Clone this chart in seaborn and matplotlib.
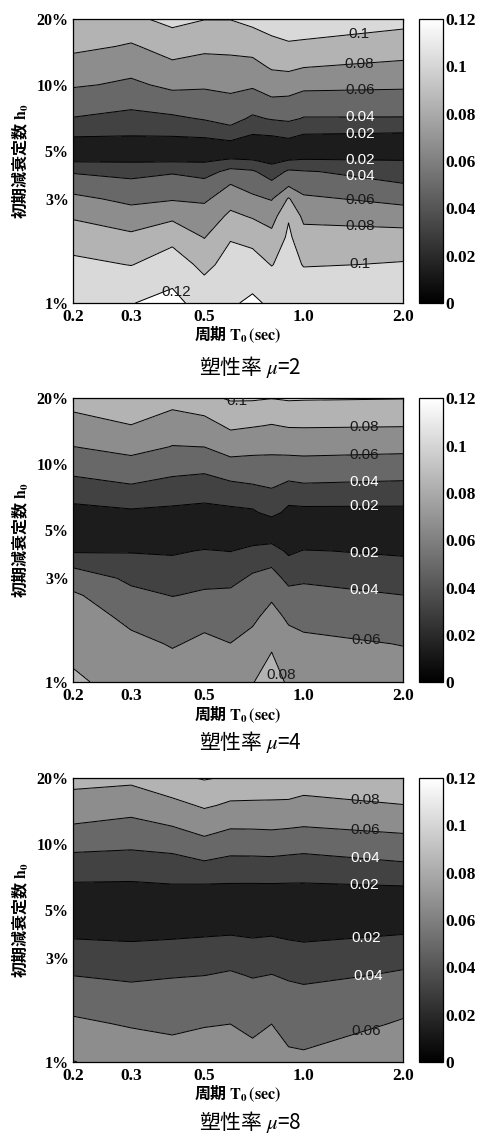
import numpy as np
import matplotlib
matplotlib.use("Agg")
import matplotlib.pyplot as plt
import seaborn as sns
from matplotlib.cm import ScalarMappable
from matplotlib.colors import Normalize
from matplotlib.ticker import NullLocator

# grid: period T0 (sec) and initial damping h0 (%)
periods = [0.2, 0.3, 0.4, 0.5, 0.6, 0.7, 0.8, 0.9, 1.0, 2.0]
damping = [1, 1.5, 2, 2.5, 3, 3.5, 4, 4.5, 5, 6, 7, 8, 10, 12, 15, 20]

# one list per period, values from h0=1% up to h0=20%
z_mu2 = [
    [0.115, 0.104, 0.0911, 0.0776, 0.064, 0.0513, 0.038, 0.0175, 0.004, 0.0246, 0.0391, 0.0475, 0.0621, 0.0718, 0.0845, 0.0995],
    [0.1195, 0.0994, 0.0838, 0.0681, 0.0552, 0.0452, 0.0327, 0.0175, 0.004, 0.0231, 0.0337, 0.0428, 0.0566, 0.066, 0.078, 0.096],
    [0.125, 0.110, 0.0938, 0.0755, 0.0583, 0.0487, 0.0379, 0.0175, 0.004, 0.0238, 0.0367, 0.0479, 0.0647, 0.0756, 0.0886, 0.106],
    [0.112, 0.0945, 0.0793, 0.0681, 0.0569, 0.0458, 0.0326, 0.0175, 0.004, 0.0261, 0.0414, 0.0493, 0.063, 0.0725, 0.0844, 0.1005],
    [0.118, 0.1084, 0.0983, 0.084, 0.0716, 0.06, 0.0459, 0.023, 0.004, 0.0335, 0.046, 0.0535, 0.065, 0.0738, 0.0848, 0.1005],
    [0.123, 0.1083, 0.0933, 0.0782, 0.0635, 0.0525, 0.0426, 0.021, 0.004, 0.0213, 0.0371, 0.0472, 0.0629, 0.0736, 0.0877, 0.106],
    [0.117, 0.0992, 0.0853, 0.0719, 0.0588, 0.0443, 0.0297, 0.015, 0.004, 0.023, 0.0414, 0.0537, 0.0696, 0.0817, 0.0945, 0.11],
    [0.112, 0.1078, 0.1037, 0.0981, 0.0819, 0.0562, 0.0433, 0.0205, 0.004, 0.0274, 0.0432, 0.0525, 0.0696, 0.0834, 0.098, 0.11],
    [0.115, 0.0988, 0.0871, 0.0751, 0.0629, 0.0519, 0.0413, 0.022, 0.004, 0.0211, 0.0389, 0.0484, 0.0652, 0.08, 0.0971, 0.11],
    [0.115, 0.1014, 0.0871, 0.0702, 0.0538, 0.0408, 0.0304, 0.0202, 0.004, 0.0195, 0.0388, 0.048, 0.0635, 0.0757, 0.0894, 0.107],
]

z_mu4 = [
    [0.0821, 0.0756, 0.0691, 0.0626, 0.051, 0.0352, 0.0175, 0.009, 0.004, 0.014, 0.0242, 0.0343, 0.0484, 0.0598, 0.0711, 0.09],
    [0.074, 0.0645, 0.0549, 0.045, 0.0357, 0.0271, 0.0185, 0.009, 0.004, 0.0175, 0.0284, 0.0393, 0.0547, 0.0659, 0.0795, 0.097],
    [0.068, 0.0587, 0.049, 0.0395, 0.0319, 0.0243, 0.0175, 0.009, 0.004, 0.016, 0.0253, 0.0349, 0.0482, 0.0594, 0.0702, 0.088],
    [0.072, 0.0635, 0.0542, 0.0426, 0.0348, 0.0281, 0.0213, 0.011, 0.004, 0.014, 0.0235, 0.0322, 0.0472, 0.0601, 0.0726, 0.095],
    [0.068, 0.0602, 0.0518, 0.0434, 0.0352, 0.0272, 0.0195, 0.01, 0.004, 0.016, 0.026, 0.0368, 0.0548, 0.068, 0.0835, 0.102],
    [0.0795, 0.0658, 0.0561, 0.0494, 0.0427, 0.0344, 0.025, 0.014, 0.004, 0.0175, 0.0283, 0.0393, 0.0542, 0.0662, 0.0812, 0.102],
    [0.086, 0.078, 0.0669, 0.0564, 0.047, 0.0373, 0.0271, 0.016, 0.004, 0.026, 0.0335, 0.0422, 0.0545, 0.0651, 0.0791, 0.1002],
    [0.078, 0.0672, 0.0563, 0.0454, 0.035, 0.0248, 0.017, 0.009, 0.004, 0.015, 0.0257, 0.0368, 0.0539, 0.0663, 0.0814, 0.102],
    [0.072, 0.0635, 0.0546, 0.0457, 0.0371, 0.0289, 0.0208, 0.011, 0.004, 0.0155, 0.0269, 0.0386, 0.0546, 0.0667, 0.0816, 0.1015],
    [0.068, 0.0594, 0.0497, 0.0402, 0.0319, 0.0239, 0.017, 0.009, 0.004, 0.0155, 0.0263, 0.0369, 0.0526, 0.0653, 0.0808, 0.1005],
]

z_mu8 = [
    [0.0805, 0.063, 0.0508, 0.0397, 0.031, 0.0223, 0.0155, 0.009, 0.004, 0.0145, 0.0228, 0.0316, 0.0465, 0.0588, 0.0702, 0.088],
    [0.0725, 0.0581, 0.0465, 0.0365, 0.0286, 0.0207, 0.0152, 0.009, 0.004, 0.0145, 0.0221, 0.0303, 0.0443, 0.0549, 0.0673, 0.085],
    [0.067, 0.0564, 0.0475, 0.0387, 0.0303, 0.022, 0.0155, 0.009, 0.004, 0.0155, 0.0239, 0.0324, 0.0472, 0.0598, 0.0747, 0.096],
    [0.0725, 0.0583, 0.0491, 0.0398, 0.0316, 0.0233, 0.0165, 0.0095, 0.004, 0.0145, 0.0248, 0.0368, 0.0548, 0.0674, 0.0824, 0.1015],
    [0.074, 0.0598, 0.051, 0.0421, 0.0336, 0.0251, 0.017, 0.0095, 0.004, 0.0145, 0.0239, 0.0338, 0.0491, 0.0618, 0.077, 0.0975],
    [0.0655, 0.0559, 0.0472, 0.0387, 0.0307, 0.0227, 0.016, 0.0095, 0.004, 0.0145, 0.0238, 0.0339, 0.0493, 0.062, 0.0766, 0.097],
    [0.074, 0.0598, 0.0501, 0.0404, 0.0321, 0.0239, 0.0168, 0.0095, 0.004, 0.0145, 0.0241, 0.0342, 0.0499, 0.0626, 0.0765, 0.096],
    [0.063, 0.0544, 0.0459, 0.0376, 0.0296, 0.0216, 0.0155, 0.009, 0.004, 0.0145, 0.0236, 0.0331, 0.0486, 0.0615, 0.0761, 0.096],
    [0.0625, 0.0534, 0.0445, 0.0361, 0.0283, 0.0205, 0.015, 0.009, 0.004, 0.0145, 0.0234, 0.0324, 0.0473, 0.0601, 0.0734, 0.093],
    [0.075, 0.0616, 0.0519, 0.0426, 0.034, 0.0255, 0.0175, 0.0095, 0.004, 0.0155, 0.0264, 0.0379, 0.053, 0.065, 0.0795, 0.096],
]

levels = [0, 0.02, 0.04, 0.06, 0.08, 0.10, 0.12]
label_levels = [0.02, 0.04, 0.06, 0.08, 0.10, 0.12]
period_ticks = [0.2, 0.3, 0.5, 1.0, 2.0]
period_labels = ["0.2", "0.3", "0.5", "1.0", "2.0"]
damping_ticks = [1, 3, 5, 10, 20]
damping_labels = ["1%", "3%", "5%", "10%", "20%"]
cbar_ticks = [0, 0.02, 0.04, 0.06, 0.08, 0.10, 0.12]
cbar_labels = ["0", "0.02", "0.04", "0.06", "0.08", "0.1", "0.12"]
titles = ["塑性率 $\\mu$=2", "塑性率 $\\mu$=4", "塑性率 $\\mu$=8"]
xlabel = r"周期 $\mathbf{T_0\,(sec)}$"
ylabel = r"初期減衰定数 $\mathbf{h_0}$"

# where the contour labels sit (T0, h0)
label_pos_mu2 = [(1.48, 16.2), (1.48, 12.1), (1.48, 9.1), (1.48, 6.9), (1.48, 5.8),
                 (1.48, 4.36), (1.48, 3.78), (1.48, 2.81), (1.48, 2.17), (1.48, 1.46),
                 (0.41, 1.08)]
label_pos_mu4 = [(0.63, 18.5), (1.53, 14.7), (1.53, 10.9), (1.53, 8.06), (1.53, 6.19),
                 (1.53, 3.91), (1.53, 2.68), (1.55, 1.56), (0.86, 1.15)]
label_pos_mu8 = [(1.53, 15.3), (1.53, 11.25), (1.53, 8.27), (1.53, 6.35),
                 (1.55, 3.70), (1.57, 2.55), (1.55, 1.38)]

sns.set_theme(style="white")
plt.rcParams["font.family"] = ["Liberation Serif", "Noto Sans CJK JP"]
plt.rcParams["mathtext.fontset"] = "stix"
plt.rcParams["axes.unicode_minus"] = False

band_colors = sns.blend_palette(["#1c1c1c", "#d9d9d9"], 6)
label_colors = ["white", "white", "#1a1a1a", "#1a1a1a", "#1a1a1a", "#1a1a1a"]
cjk = "Noto Sans CJK JP"

fig = plt.figure(figsize=(4.86, 11.4), dpi=100)

panels = [
    (z_mu2, label_pos_mu2, 0.7342, 0.678),
    (z_mu4, label_pos_mu4, 0.4015, 0.349),
    (z_mu8, label_pos_mu8, 0.0684, 0.016),
]

for i, (z, lpos, bottom, ty) in enumerate(panels):
    ax = fig.add_axes([0.1502, bottom, 0.679, 0.249])
    Z = np.array(z).T
    ax.contourf(periods, damping, Z, levels=levels, colors=band_colors)
    cs = ax.contour(periods, damping, Z, levels=label_levels, colors="black",
                    linewidths=0.7)
    texts = ax.clabel(cs, label_levels, manual=lpos, inline=False,
                      fmt=lambda v: f"{v:g}", colors=label_colors, fontsize=11)
    for t in texts:
        t.set_rotation(0)
        t.set_fontfamily("Liberation Sans")

    ax.set_xscale("log")
    ax.set_yscale("log")
    ax.set_xlim(0.2, 2.0)
    ax.set_ylim(1, 20)
    ax.set_xticks(period_ticks, labels=period_labels)
    ax.set_yticks(damping_ticks, labels=damping_labels)
    ax.xaxis.set_minor_locator(NullLocator())
    ax.yaxis.set_minor_locator(NullLocator())
    ax.tick_params(direction="in", length=3, width=0.8, top=True, right=True,
                   colors="black")
    ax.tick_params(axis="x", pad=4, labelsize=12.5)
    ax.tick_params(axis="y", pad=3, labelsize=11.5)
    for lab in ax.get_xticklabels() + ax.get_yticklabels():
        lab.set_fontweight("bold")
    for sp in ax.spines.values():
        sp.set_color("black")
        sp.set_linewidth(0.9)

    ax.set_xlabel(xlabel, fontsize=11.5, fontweight="bold", family=cjk,
                  labelpad=0, color="black")
    ax.set_ylabel(ylabel, fontsize=11.5, fontweight="bold", family=cjk,
                  labelpad=4, color="black")

    cax = fig.add_axes([0.862, bottom, 0.0494, 0.249])
    sm = ScalarMappable(norm=Normalize(0, 0.12), cmap="gray")
    cb = fig.colorbar(sm, cax=cax, ticks=cbar_ticks)
    cb.ax.set_yticklabels(cbar_labels)
    cb.ax.tick_params(direction="in", length=3, width=0.8, labelsize=12.5,
                      pad=2, colors="black")
    for lab in cb.ax.get_yticklabels():
        lab.set_fontweight("bold")
    cb.outline.set_edgecolor("black")
    cb.outline.set_linewidth(0.9)

    fig.text(0.514, ty, titles[i], ha="center", va="center", fontsize=15,
             family=cjk, color="black")

fig.savefig("out.png", dpi=100, facecolor="white")
